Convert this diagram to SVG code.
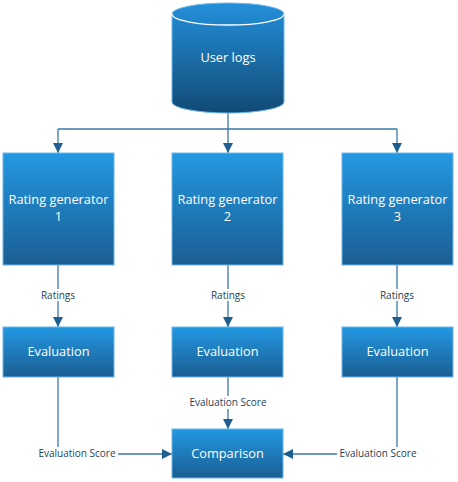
<svg xmlns="http://www.w3.org/2000/svg" width="458" height="482" viewBox="0 0 458 482">
<defs>
<linearGradient id="gBox" x1="0" y1="0" x2="0" y2="1">
<stop offset="0" stop-color="#2398e2"/>
<stop offset="1" stop-color="#1a5e92"/>
</linearGradient>
<linearGradient id="gCyl" x1="0" y1="0" x2="0" y2="1">
<stop offset="0" stop-color="#2390db"/>
<stop offset="1" stop-color="#124a75"/>
</linearGradient>
<marker id="arr" viewBox="0 0 10 10" refX="10" refY="5" markerWidth="10" markerHeight="10" markerUnits="userSpaceOnUse" orient="auto">
<path d="M0,0 L10,5 L0,10 Z" fill="#1f5f8f"/>
</marker>
<style>
.box{fill:url(#gBox);stroke:#6ab6ea;stroke-width:1}
.t{font-family:"Open Sans","DejaVu Sans",sans-serif;font-size:12.8px;fill:#ffffff;text-anchor:middle}
.l{font-family:"Open Sans","DejaVu Sans",sans-serif;font-size:10px;fill:#1e3f5a;text-anchor:middle}
.c{fill:none;stroke:#3a78a8;stroke-width:1.3}
.ca{fill:none;stroke:#3a78a8;stroke-width:1.3;marker-end:url(#arr)}
</style>
</defs>
<rect width="458" height="482" fill="#ffffff"/>
<g id="connectors">
<path class="c" d="M228,113 V129"/>
<path class="c" d="M58,129 H397"/>
<path class="ca" d="M58,129 V153"/>
<path class="ca" d="M228,129 V153"/>
<path class="ca" d="M397,129 V153"/>
<path class="ca" d="M58,265 V327"/>
<path class="ca" d="M228,265 V327"/>
<path class="ca" d="M397,265 V327"/>
<path class="ca" d="M228,377 V429"/>
<path class="ca" d="M58,377 V454 H172"/>
<path class="ca" d="M397,377 V454 H283"/>
<rect x="38" y="289" width="40" height="12" fill="#ffffff"/>
<rect x="208" y="289" width="40" height="12" fill="#ffffff"/>
<rect x="377" y="289" width="40" height="12" fill="#ffffff"/>
<rect x="187" y="396" width="82" height="13" fill="#ffffff"/>
<rect x="36" y="447" width="82" height="13" fill="#ffffff"/>
<rect x="337" y="447" width="82" height="13" fill="#ffffff"/>
<text class="l" x="58" y="299">Ratings</text>
<text class="l" x="228" y="299">Ratings</text>
<text class="l" x="397" y="299">Ratings</text>
<text class="l" x="228" y="406">Evaluation Score</text>
<text class="l" x="77" y="457">Evaluation Score</text>
<text class="l" x="378" y="457">Evaluation Score</text>
</g>
<g id="user-logs">
<path d="M172,14 V102 A56,11 0 0 0 284,102 V14 A56,11 0 0 0 172,14 Z" fill="url(#gCyl)" stroke="#6ab6ea" stroke-width="1"/>
<path d="M172,14 A56,11 0 0 0 284,14" fill="none" stroke="#ffffff" stroke-width="1.3"/>
<text class="t" x="228" y="62">User logs</text>
</g>
<g id="rating-generator-1">
<rect class="box" x="3" y="153" width="111" height="112"/>
<text class="t" x="58.5" y="204">Rating generator</text>
<text class="t" x="58.5" y="221">1</text>
</g>
<g id="rating-generator-2">
<rect class="box" x="172" y="153" width="111" height="112"/>
<text class="t" x="227.5" y="204">Rating generator</text>
<text class="t" x="227.5" y="221">2</text>
</g>
<g id="rating-generator-3">
<rect class="box" x="342" y="153" width="111" height="112"/>
<text class="t" x="397.5" y="204">Rating generator</text>
<text class="t" x="397.5" y="221">3</text>
</g>
<g id="evaluation-1">
<rect class="box" x="3" y="327" width="111" height="50"/>
<text class="t" x="58.5" y="356">Evaluation</text>
</g>
<g id="evaluation-2">
<rect class="box" x="172" y="327" width="111" height="50"/>
<text class="t" x="227.5" y="356">Evaluation</text>
</g>
<g id="evaluation-3">
<rect class="box" x="342" y="327" width="111" height="50"/>
<text class="t" x="397.5" y="356">Evaluation</text>
</g>
<g id="comparison">
<rect class="box" x="172" y="429" width="111" height="49"/>
<text class="t" x="227.5" y="458">Comparison</text>
</g>
</svg>
